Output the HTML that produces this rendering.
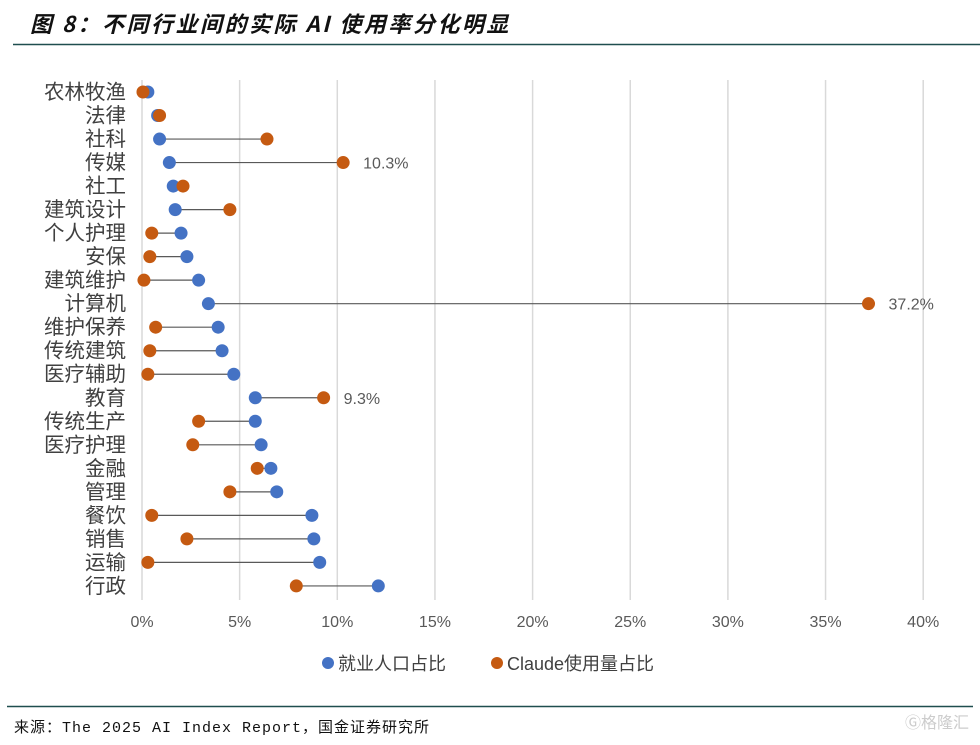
<!DOCTYPE html>
<html><head><meta charset="utf-8"><style>
body{margin:0;background:#fff;width:980px;height:740px;overflow:hidden;font-family:"Liberation Sans","Noto Sans CJK SC",sans-serif}
</style></head><body>
<svg id="c" width="980" height="740" xmlns="http://www.w3.org/2000/svg">
<text x="30" y="32" font-size="22" font-weight="bold" font-style="italic" letter-spacing="2.5" fill="#111" font-family="'Noto Sans CJK SC',sans-serif">图 8：不同行业间的实际 AI 使用率分化明显</text>
<line x1="13" y1="44.5" x2="980" y2="44.5" stroke="#1f4e4f" stroke-width="1.5"/>
<line x1="7" y1="706.5" x2="973" y2="706.5" stroke="#1f4e4f" stroke-width="1.5"/>
<text x="14" y="732" font-size="15" letter-spacing="1" fill="#111" font-family="'Liberation Mono','Noto Sans CJK SC',monospace">来源：The 2025 AI Index Report，国金证券研究所</text>
<text x="905" y="728" font-size="16" fill="#ccc" font-family="'Noto Sans CJK SC',sans-serif">Ⓖ格隆汇</text>
<g id="plot"></g>
</svg>
<script>
const categories=["农林牧渔","法律","社科","传媒","社工","建筑设计","个人护理","安保","建筑维护","计算机","维护保养","传统建筑","医疗辅助","教育","传统生产","医疗护理","金融","管理","餐饮","销售","运输","行政"];
const employment=[0.3,0.8,0.9,1.4,1.6,1.7,2.0,2.3,2.9,3.4,3.9,4.1,4.7,5.8,5.8,6.1,6.6,6.9,8.7,8.8,9.1,12.1];
const claude=[0.05,0.9,6.4,10.3,2.1,4.5,0.5,0.4,0.1,37.2,0.7,0.4,0.3,9.3,2.9,2.6,5.9,4.5,0.5,2.3,0.3,7.9];
const labels=["","","","10.3%","","","","","","37.2%","","","","9.3%","","","","","","","",""];
const ticks=[0,5,10,15,20,25,30,35,40];
const NS="http://www.w3.org/2000/svg";
const g=document.getElementById('plot');
const x=v=>142+v*19.53;
const y=i=>92+i*23.52;
function el(t,a){const e=document.createElementNS(NS,t);for(const k in a)e.setAttribute(k,a[k]);g.appendChild(e);return e;}
ticks.forEach(t=>{
 const l=el('line',{x1:x(t),x2:x(t),y1:80,y2:600,stroke:'#d9d9d9','stroke-width':1.5});
 
 
 const tx=el('text',{x:x(t),y:627,'text-anchor':'middle','font-size':16,fill:'#595959'});
 tx.textContent=t+'%';
 
 
});
categories.forEach((c,i)=>{
 const tx=el('text',{x:126,y:y(i)+7,'text-anchor':'end','font-size':20.5,fill:'#404040'});
 tx.textContent=c;
 
 
 const ln=el('line',{x1:x(employment[i]),x2:x(claude[i]),y1:y(i),y2:y(i),stroke:'#595959','stroke-width':1.2});
 
 
 const b=el('circle',{cx:x(employment[i]),cy:y(i),r:6.5,fill:'#4472C4'});
 
 
 const o=el('circle',{cx:x(claude[i]),cy:y(i),r:6.5,fill:'#C55A11'});
 
 
 if(labels[i]){
  const v=el('text',{x:x(claude[i])+20,y:y(i)+6,'font-size':16,fill:'#595959'});
  v.textContent=labels[i];
  
  
 }
});
const lg=[[328,'#4472C4','就业人口占比'],[497,'#C55A11','Claude使用量占比']];
lg.forEach(d=>{
 const c=el('circle',{cx:d[0],cy:663,r:6,fill:d[1]});
 
 
 const t=el('text',{x:d[0]+10,y:670,'font-size':18,fill:'#404040'});
 t.textContent=d[2];
 
 
});
</script>
</body></html>
